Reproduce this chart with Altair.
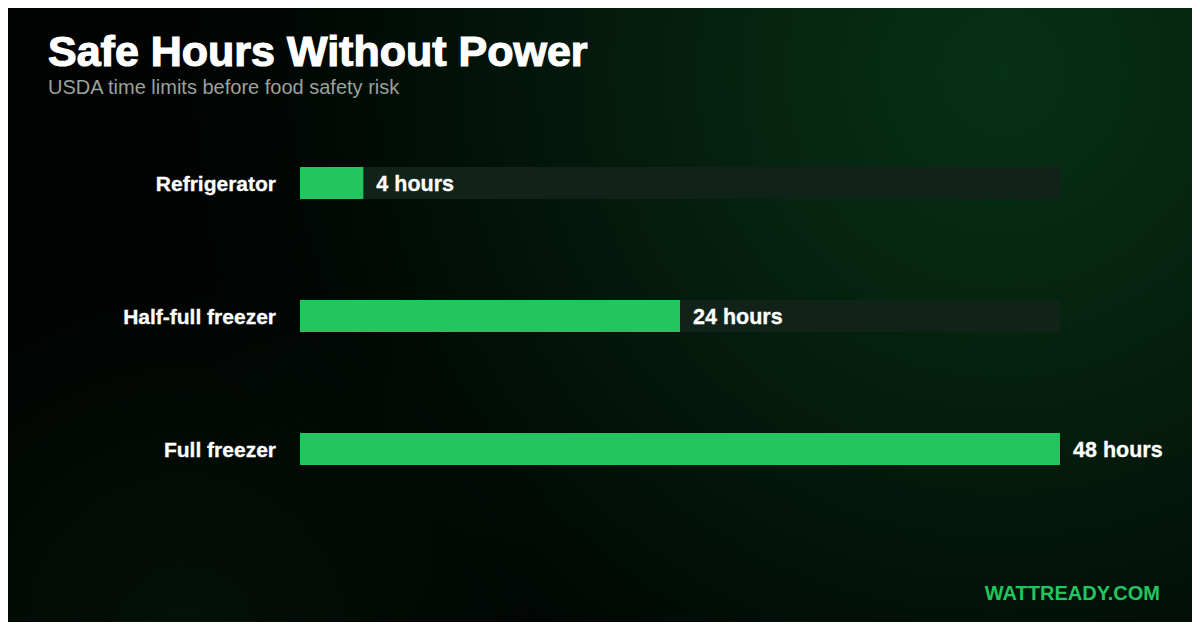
import altair as alt
import pandas as pd

categories = ["Refrigerator", "Half-full freezer", "Full freezer"]
hours = [4, 24, 48]
value_labels = ["4 hours", "24 hours", "48 hours"]
track_max = [48, 48, 48]

title_text = "Safe Hours Without Power"
subtitle_text = "USDA time limits before food safety risk"
brand_text = "WATTREADY.COM"

W, H = 1184, 614

df = pd.DataFrame({"cat": categories, "hours": hours, "label": value_labels, "track": track_max})

xscale = alt.Scale(domain=[0, 48], range=[292, 1052], nice=False, zero=True)
yscale = alt.Scale(domain=categories, range=[108.5, 507.5], paddingInner=0.5, paddingOuter=0.25)

FONT = "Liberation Sans"

glow = alt.Chart(pd.DataFrame({"a": [0]})).mark_rect(
    fill=alt.Gradient(
        gradient="radial",
        x1=0.84, y1=0.295, r1=0,
        x2=0.84, y2=0.295, r2=0.72,
        stops=[
            alt.GradientStop(color="#083017", offset=0),
            alt.GradientStop(color="#062611", offset=0.25),
            alt.GradientStop(color="#03160b", offset=0.55),
            alt.GradientStop(color="#010603", offset=0.85),
            alt.GradientStop(color="#010302", offset=1),
        ],
    )
).encode(x=alt.value(0), x2=alt.value(W), y=alt.value(0), y2=alt.value(H))

glow2 = alt.Chart(pd.DataFrame({"a": [0]})).mark_rect(
    fill=alt.Gradient(
        gradient="radial",
        x1=0.15, y1=0.77, r1=0,
        x2=0.15, y2=0.77, r2=0.3,
        stops=[
            alt.GradientStop(color="rgba(12,60,25,0.25)", offset=0),
            alt.GradientStop(color="rgba(12,60,25,0)", offset=1),
        ],
    )
).encode(x=alt.value(0), x2=alt.value(W), y=alt.value(0), y2=alt.value(H))

base = alt.Chart(df)

track = base.mark_bar(size=32, color="#112319").encode(
    x=alt.X("track:Q", scale=xscale, axis=None),
    x2=alt.datum(0),
    y=alt.Y("cat:N", scale=yscale, axis=None, sort=categories),
)

bars = base.mark_bar(size=32, color="#22c55e").encode(
    x=alt.X("hours:Q", scale=xscale, axis=None),
    y=alt.Y("cat:N", scale=yscale, axis=None, sort=categories),
)

vals = base.mark_text(
    align="left", baseline="middle", dx=13, dy=1.5, fontSize=21.5, fontWeight="bold",
    font=FONT, color="#ffffff", stroke="#ffffff", strokeWidth=0.3,
).encode(
    x=alt.X("hours:Q", scale=xscale, axis=None),
    y=alt.Y("cat:N", scale=yscale, axis=None, sort=categories),
    text="label:N",
)

cats = base.mark_text(
    align="right", baseline="middle", dy=1.5, fontSize=21, fontWeight="bold",
    font=FONT, color="#ffffff", stroke="#ffffff", strokeWidth=0.3,
).encode(
    x=alt.value(268),
    y=alt.Y("cat:N", scale=yscale, axis=None, sort=categories),
    text="cat:N",
)

one = pd.DataFrame({"t": [title_text], "s": [subtitle_text], "b": [brand_text]})

title = alt.Chart(one).mark_text(
    align="left", baseline="alphabetic", fontSize=43, fontWeight="bold",
    font=FONT, color="#ffffff", stroke="#ffffff", strokeWidth=1.2,
).encode(x=alt.value(40), y=alt.value(58), text="t:N")

subtitle = alt.Chart(one).mark_text(
    align="left", baseline="alphabetic", fontSize=20,
    font=FONT, color="#9aa29d",
).encode(x=alt.value(40), y=alt.value(86), text="s:N")

brand = alt.Chart(one).mark_text(
    align="right", baseline="alphabetic", fontSize=20, fontWeight="bold",
    font=FONT, color="#22c55e",
).encode(x=alt.value(1152), y=alt.value(592), text="b:N")

chart = alt.layer(glow, glow2, track, bars, vals, cats, title, subtitle, brand).properties(
    width=W, height=H,
    autosize=alt.AutoSizeParams(type="fit", contains="padding"),
    padding=0,
).configure(background="#010302").configure_view(strokeWidth=0)

chart.save("out.html", embed_options={"renderer": "svg", "actions": False})
